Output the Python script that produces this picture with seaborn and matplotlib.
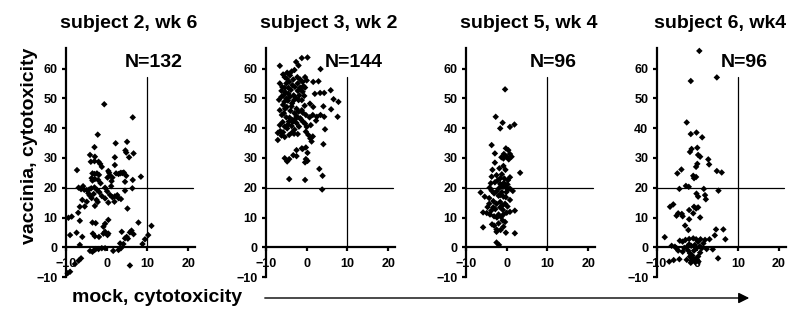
import numpy as np
import pandas as pd
import matplotlib
matplotlib.use("Agg")
import matplotlib.pyplot as plt
import seaborn as sns

TITLES = ["subject 2, wk 6", "subject 3, wk 2", "subject 5, wk 4", "subject 6, wk4"]
N_LABELS = [132, 144, 96, 96]
X_TICKS = [-10, 0, 10, 20]
Y_TICKS = [-10, 0, 10, 20, 30, 40, 50, 60]
Y_LABEL = "vaccinia, cytotoxicity"
X_LABEL = "mock, cytotoxicity"
CUTOFF_X = 10
CUTOFF_Y = 20

# (mock, vaccinia) cytotoxicity
S2_POINTS = [
    (-0.6, 48), (6.4, 43.6), (-2.2, 37.8), (-3, 33.6), (2.2, 34.9), (5, 35.4), (4.6, 32.5), (4.8, 31.8),
    (6.6, 31.5), (5.5, 30.2), (2, 30.2), (-4.1, 31), (-2.9, 30.4), (-3.9, 28.7), (-3, 28.9), (-2, 28.7),
    (-1.6, 28), (-1.2, 27), (-7.3, 25.9), (2, 27.6),
    (4.2, 25.1), (3.3, 24.8), (3.9, 24.9), (4.8, 24), (-3.5, 24.8), (-3, 24.6), (-2.4, 24.8), (-1.9, 24.3),
    (-3.7, 23.2), (-2.9, 22.9), (-2.1, 22.6), (-3.5, 22.4), (0.4, 25.6), (0.8, 24.1), (0.2, 23.4), (1.4, 23.4),
    (2.3, 24.8), (2.9, 24.6), (3.5, 25), (8.4, 23.7), (6.4, 22.6), (4.5, 22), (0.6, 25),
    (-6.9, 20), (-6.3, 19.5), (-5.5, 19.3), (-4.9, 19.2), (-4.3, 19.4), (-3.8, 19.8), (-3, 20.1), (-2.4, 19.3),
    (-0.4, 20), (6.3, 19.8), (4.5, 19),
    (-4.5, 18.1), (-6, 15.9), (-4.9, 15.3), (-3.7, 16.5), (-2.5, 15.9), (-1.2, 17.2), (-0.4, 16.4), (0.8, 17.6),
    (1.4, 16.8), (2, 17.1), (2.9, 16.5), (1.9, 15.3), (0.4, 15), (-2.9, 13.9), (-5.4, 13.7), (-6.6, 13.6),
    (-4.2, 17.4), (-3.2, 17.9), (-1.8, 18.5), (0.1, 18.8), (2.6, 17.5), (3.5, 16.2),
    (5.1, 13), (-7, 11.6), (-8.6, 10.3), (-9.4, 9.9), (7.8, 8.3), (-6.6, 8.9), (-3.5, 8.3), (-2.7, 8.1),
    (-0.4, 7.9), (0.4, 9.2), (-0.8, 6.9),
    (11, 7.2), (-9, 4.1), (-7.4, 4.9), (-6, 3.5), (-3.4, 4.6), (-2.9, 3.7), (-1.9, 3.5), (-0.8, 4.6),
    (-0.4, 5.2), (0.2, 4.1), (0.4, 4.6),
    (3.7, 5.2), (4.9, 3.5), (5.7, 5), (6.1, 5.6), (5.2, 2.9), (4.5, 3.0), (6.6, 4.4), (10.2, 4.1),
    (9.4, 2.7), (8.8, 1.1), (-6.6, 0.8), (3.3, 1.3), (4.1, 1.1),
    (-4.1, -1.2), (-3.5, -1.5), (-3, -0.9), (-2.7, -0.6), (-2, -0.6), (-1.2, -0.3), (-0.4, -0.3), (1.6, -1.2),
    (2.9, -0.9), (3.5, -0.3),
    (-6.3, -3.7), (-6.9, -4.5), (-7.8, -5.6), (-9, -8.2), (-9.6, -8.7), (5.7, -6.1),
    (-5.8, 20.5), (-1.5, 21.5), (1.1, 20.5), (-2.2, 15.2), (1.2, 22.2),
]

S3_POINTS = [
    (-1.2, 63.5), (0.2, 63.7), (-2.6, 62.2), (-2, 61), (-6.6, 60.9), (3.4, 59.8), (-3.7, 59), (-3, 59.5),
    (-4.8, 58.6), (-5.4, 57.1), (-4.9, 56.6), (-4.1, 57.7), (-2.3, 57.1), (-1.6, 56.3), (-0.4, 57.1), (0, 56),
    (-5.8, 58), (-3.3, 56.3), (1.6, 55.5), (2.9, 55.7),
    (-6.6, 55), (-5, 55), (-4.3, 55.5), (-3.5, 54.4), (-2.9, 53.8), (-1.6, 53.6), (-0.8, 54.1), (-0.4, 53.6),
    (-2.2, 52.5), (-1.5, 53), (-5.4, 53.5), (-3.9, 52.8), (-1, 52.2), (-6.2, 52.5), (5.9, 52.7),
    (-6.2, 50.5), (-5.7, 51), (-5, 49.9), (-4.1, 50.5), (-3.1, 49.4), (-2, 49.4), (-1.2, 49.4), (-5.5, 48.8),
    (-4.6, 49.2), (-3.6, 48.3), (2, 51.5), (3.3, 51.8), (4.3, 51.8), (6.6, 49.7), (7.8, 48.8),
    (-6.6, 46), (-4.9, 47.1), (-3.7, 47.3), (-2.5, 46.5), (-1.2, 46), (0.8, 48.2), (1.6, 47.1), (4.1, 47.3),
    (-5.6, 45), (-0.5, 47.5), (6, 46.3),
    (-6.1, 44.4), (-5, 43.6), (-3.4, 42.7), (-1.6, 43.3), (-0.2, 44.4), (0.7, 43.6), (1.5, 44.4), (2.5, 43.8),
    (3.4, 44.4), (4.3, 43.8), (-4.2, 43.5), (-2.5, 44), (7.6, 43.8),
    (-6.6, 41), (-5.4, 40.5), (-4.8, 39.9), (-3.7, 40.7), (-2.5, 41.7), (-1.4, 42.9), (-0.8, 42), (-5.9, 42),
    (-4.4, 42.2), (-3, 39.5), (-7.1, 38.4), (-6.2, 37.5), (-5.4, 37), (-4.3, 37.7), (-3.1, 38.1), (-6.5, 39),
    (-5.8, 38.6), (0, 40.4), (-0.2, 38.8), (0.4, 37.7), (1.5, 37.2), (4.5, 39.6), (0.9, 36.5),
    (-7.1, 36), (4.1, 34.6), (1.2, 35.5), (-2.5, 32.6), (-1.2, 33.2), (-0.2, 33.5), (0.2, 31.7), (-1.0, 33.0),
    (-3.3, 30.9), (-2.5, 30.6), (-5.4, 29.9), (-4.8, 28.8), (-4.3, 29.6), (-0.2, 29.6), (0.2, 29), (-0.4, 28.5),
    (3.1, 26.3), (3.9, 24), (-4.3, 22.9), (-0.4, 22.6), (3.8, 19.4),
    (-5.2, 52), (-4.5, 51.5), (-3.2, 51), (-2.7, 50.2), (-1.8, 51), (-0.6, 50.8), (-4, 45.8), (-3, 45),
    (-2, 45.5), (-1, 45.2), (-5.3, 46.5), (-2.8, 43), (-0.4, 41.5), (-1.9, 40.5), (-4.6, 41.2), (-3.5, 42),
    (-2.2, 55), (-1, 55.5), (-4.5, 53.5), (-5.8, 47.8), (-6.8, 49.5), (-3.6, 38.5), (-2.2, 38), (1, 41),
    (2.3, 42.5), (-6, 53.8),
]

S5_POINTS = [
    (-0.4, 53), (-2.7, 43.8), (-1, 41.8), (-1.6, 39.9), (0.8, 40.4), (1.9, 41.2), (-3.7, 34.3), (-2.9, 31.5),
    (-0.2, 33.2), (0.4, 32.6), (-0.7, 31.3), (0.8, 31.3), (0, 30.4), (1.2, 30.4), (-0.8, 29.8), (-1.3, 30.2),
    (0.5, 29.5), (-2.9, 28.4), (-0.8, 27.3), (3.3, 25),
    (-3.7, 23.7), (-2.5, 24.2), (-1.6, 23.1), (-0.6, 23.1), (0.8, 23.5), (-1.2, 24.5),
    (-3.9, 21.5), (-2.9, 21.8), (-1.6, 21.3), (-1.2, 20.8), (-0.7, 21.6), (0.2, 21.1), (0.8, 19.7), (1.5, 18.9),
    (-0.3, 20.2), (-1.9, 19.8), (-0.9, 20.3),
    (-6.4, 18.4), (-5.4, 17), (-4.3, 16.5), (-3.1, 18.1), (-2.5, 18.7), (-1.6, 17.5), (-0.8, 17), (-0.2, 16.8),
    (0.8, 15.9), (-2, 17.3), (-1.2, 18.5),
    (-4.3, 14.6), (-3.3, 13.4), (-2.5, 14.6), (-1.6, 15.2), (-0.4, 14.6), (0.2, 13.7), (-1.6, 13.4), (-2.8, 12.8),
    (-0.9, 12.5), (-4.9, 11.5), (-4.1, 11), (-3.1, 10.4), (-2, 11), (-0.8, 11), (0, 11.6), (0.8, 11.9),
    (-5.8, 11.7), (-3.8, 12.3), (-1.4, 10.2), (-2.4, 10), (2, 12.3), (-1, 9),
    (-5.8, 6.7), (-3.1, 7.3), (-2.5, 6), (-1.5, 5.8), (-0.8, 6.9), (-2, 8), (-3.6, 7.7),
    (2, 4.7), (-0.2, 4.9), (-2.5, 5.2), (-2.5, 1.6), (-1.9, 0.8),
    (-3.5, 26), (-0.3, 26), (-1.8, 26.5), (-4.2, 20), (-3.3, 15.5), (-0.1, 18.5), (0.3, 22.5), (-2.2, 22.5),
    (-4.7, 13.5), (-1.1, 14), (-0.4, 8.5), (0.4, 19.5), (-3.7, 19),
]

S6_POINTS = [
    (0.5, 65.9), (-1.6, 55.8), (4.8, 57), (-2.6, 41.9), (-1.6, 38), (-0.2, 38.5), (1.2, 36.9),
    (-1.4, 33), (-1.8, 32), (0, 33.4), (0.2, 31), (0.7, 30.4), (2.7, 29.5), (2.9, 27.8), (0, 28), (-0.3, 27),
    (-4.9, 24.8), (-3.9, 26.1), (-1, 24), (-0.3, 23.6), (-0.8, 23.2), (4.8, 25.6), (6, 25.1),
    (-4.4, 19.6), (-2.8, 20.6), (-2.1, 20.3), (1.6, 19.6), (5.2, 19), (-0.2, 18), (0.2, 17), (1.9, 17.5),
    (2.1, 16.1),
    (-6.7, 13.6), (-5.9, 14.4), (-5.1, 10.6), (-4.7, 11.4), (-3.8, 11.2), (-3.6, 10.4), (-2, 12.5), (-0.8, 13.6),
    (-0.3, 13), (0.2, 13.4), (-2, 9.4), (-1, 11.4), (0.7, 10),
    (-3, 7.3), (-2.2, 5.8), (-8, 3.4),
    (-6.3, 0.5), (-5.5, 0.2), (-5.1, -0.3), (-4.3, 2.2), (-3.6, 1.9), (-4.7, -1.1), (-3.6, -1.5), (-2.5, 0.2),
    (-2, 1), (-2, 2.8), (-1, 3.0), (-0.3, 2.7), (0.2, 1.9), (0.8, 2.7), (1.5, 1.3), (1.1, -0.3),
    (-0.2, -0.3), (-0.8, -1.1), (-1.8, -2), (-1.8, -3.1), (-1, -3.7), (-0.3, -4), (0.2, -3.1), (0.7, -1.8),
    (1.9, 2.5), (3, 2.7), (3.8, -0.7), (4.3, 4), (4.6, 6), (6.4, 6), (6.9, 2.7), (5.1, -3.7),
    (-4.4, -4), (-6.9, -4.8),
    (-2.6, -4.2), (-1.4, -4.5), (-0.5, -5), (0.3, -4.8), (-1.2, -2.8), (-2.3, -1), (-1.5, 0.5), (-0.6, 0.8),
    (0.6, 0.3), (-3.2, -0.2), (-2.9, 2.5), (-5.8, -4.3), (2.3, -0.6), (-1.6, -5.2),
]

PANELS = [S2_POINTS, S3_POINTS, S5_POINTS, S6_POINTS]

# layout in pixels of the 800x313 canvas
W, H = 800, 313
ZERO_X_PX = [106.7, 306.7, 506.7, 697.3]
ZERO_Y_PX = 247.3
PX_PER_X = 4.07
PX_PER_Y = 2.98
XLIM = (-12, 23)
YLIM = (-12, 68)
LW = 1.6

sns.set_style("ticks")
plt.rcParams.update({
    "font.family": ["Liberation Sans", "DejaVu Sans"],
    "font.weight": "bold",
    "text.color": "black",
    "axes.edgecolor": "black",
    "axes.labelcolor": "black",
    "xtick.color": "black",
    "ytick.color": "black",
})

fig = plt.figure(figsize=(W / 100, H / 100), dpi=100)

for i, pts in enumerate(PANELS):
    df = pd.DataFrame(pts, columns=["mock", "vaccinia"])
    left_px = ZERO_X_PX[i] + XLIM[0] * PX_PER_X
    top_px = ZERO_Y_PX - YLIM[1] * PX_PER_Y
    w_px = (XLIM[1] - XLIM[0]) * PX_PER_X
    h_px = (YLIM[1] - YLIM[0]) * PX_PER_Y
    ax = fig.add_axes([left_px / W, (H - top_px - h_px) / H, w_px / W, h_px / H])
    ax.patch.set_alpha(0)

    ax.plot([CUTOFF_X, CUTOFF_X], [0, 57], color="black", lw=0.9, zorder=1)
    ax.plot([-10, 21.2], [CUTOFF_Y, CUTOFF_Y], color="black", lw=0.9, zorder=1)
    sns.scatterplot(data=df, x="mock", y="vaccinia", marker="D", s=11,
                    color="black", edgecolor="none", linewidth=0,
                    legend=False, ax=ax, zorder=3)

    ax.set_xlim(*XLIM)
    ax.set_ylim(*YLIM)
    ax.spines["left"].set_position(("data", -10))
    ax.spines["left"].set_bounds(-10, 67)
    ax.spines["bottom"].set_position(("data", 0))
    ax.spines["bottom"].set_bounds(-10, 21.7)
    ax.spines["top"].set_visible(False)
    ax.spines["right"].set_visible(False)
    for sp in ("left", "bottom"):
        ax.spines[sp].set_linewidth(LW)
        ax.spines[sp].set_color("black")
    ax.set_xticks(X_TICKS)
    ax.set_yticks(Y_TICKS)
    ax.tick_params(axis="both", width=LW, length=3, labelsize=9, colors="black")
    ax.tick_params(axis="x", pad=5)
    ax.tick_params(axis="y", pad=3)
    for lab in ax.get_xticklabels() + ax.get_yticklabels():
        lab.set_fontweight("bold")
    ax.set_xlabel("")
    ax.set_ylabel("")

    ax.text(11.5, 62, f"N={N_LABELS[i]}", ha="center", va="center",
            fontsize=14, fontweight="bold", color="black")
    ax.text(0.5, (top_px + h_px - 23) / h_px, TITLES[i], transform=ax.transAxes,
            ha="center", va="center", fontsize=14, fontweight="bold",
            color="black", clip_on=False)

fig.text(30 / W, 1 - 146 / H, Y_LABEL, rotation=90, ha="center", va="center",
         fontsize=14, fontweight="bold", color="black")
fig.text(72 / W, 1 - 297 / H, X_LABEL, ha="left", va="center",
         fontsize=14, fontweight="bold", color="black")
fig.add_artist(matplotlib.patches.FancyArrowPatch(
    (262 / W, 1 - 298 / H), (752 / W, 1 - 298 / H), transform=fig.transFigure,
    arrowstyle="-|>", mutation_scale=16, lw=1.0, color="black"))

fig.savefig("out.png", dpi=100)
